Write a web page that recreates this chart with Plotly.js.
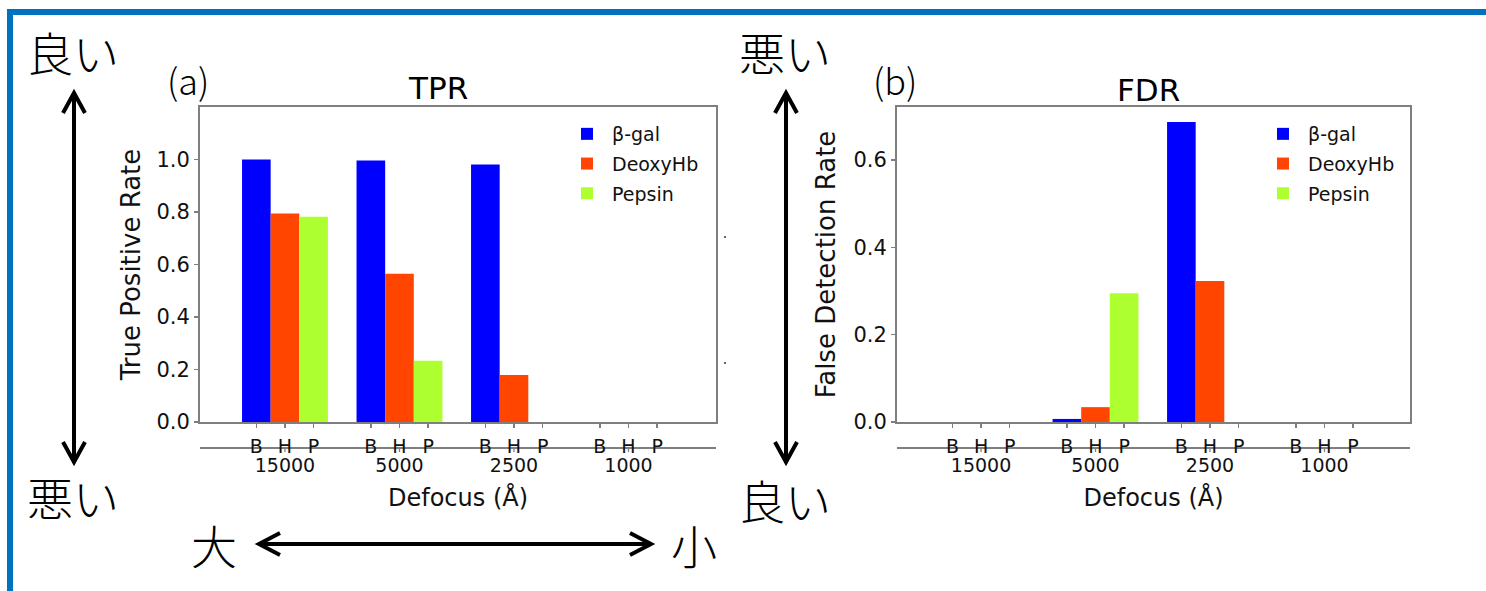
<!DOCTYPE html>
<html>
<head>
<meta charset="utf-8">
<script src="https://cdn.plot.ly/plotly-3.0.1.min.js"></script>
<style>html,body{margin:0;padding:0;background:#fff;}#chart{width:1486px;height:591px;}</style>
</head>
<body>
<div id="chart"></div>
<script>
// ---- data ----
const defocus = ['15000', '5000', '2500', '1000'];
const groupIndex = [0, 1, 2, 3];
const proteins = ['β-gal', 'DeoxyHb', 'Pepsin'];
const shortLabels = ['B', 'H', 'P'];
const tprBgal    = [1.000, 0.996, 0.981, 0];
const tprDeoxyHb = [0.794, 0.565, 0.179, 0];
const tprPepsin  = [0.782, 0.233, 0.000, 0];
const fdrBgal    = [0.000, 0.007, 0.687, 0];
const fdrDeoxyHb = [0.000, 0.034, 0.323, 0];
const fdrPepsin  = [0.000, 0.295, 0.000, 0];
const tprTicks = [0, 0.2, 0.4, 0.6, 0.8, 1.0];
const fdrTicks = [0, 0.2, 0.4, 0.6];

// ---- style ----
const colors = ['#0000ff', '#ff4500', '#adff2f'];
const W = 1486, H = 591;
const px = x => x / W;
const py = y => 1 - y / H;
const FONT = 'DejaVu Sans';
const JP = 'Noto Sans CJK JP';
const SPINE = '#7f7f7f';
const offsets = [-0.25, 0, 0.25];

const subTicks = [], subText = [];
groupIndex.forEach(g => offsets.forEach((o, k) => { subTicks.push(g + o); subText.push(shortLabels[k]); }));

function bars(vals, xa, ya, leg, tag) {
  return vals.map((v, i) => ({
    type: 'bar', x: groupIndex, y: v, name: proteins[i],
    marker: {color: colors[i], line: {width: 0}},
    xaxis: xa, yaxis: ya, legend: leg, legendgroup: tag + i, hoverinfo: 'x+y+name'
  }));
}
const traces = [
  ...bars([tprBgal, tprDeoxyHb, tprPepsin], 'x', 'y', 'legend', 'tpr'),
  ...bars([fdrBgal, fdrDeoxyHb, fdrPepsin], 'x2', 'y2', 'legend2', 'fdr'),
  {type: 'scatter', x: [], y: [], xaxis: 'x3', yaxis: 'y', showlegend: false, hoverinfo: 'skip'},
  {type: 'scatter', x: [], y: [], xaxis: 'x4', yaxis: 'y2', showlegend: false, hoverinfo: 'skip'}
];

const yDom = [py(422), py(107)];
const rangeL = [-0.742, 3.764], rangeR = [-0.734, 3.747];
const tf = {family: FONT, size: 19, color: '#111'};
const ytf = {family: FONT, size: 21, color: '#111'};
const titleF = {family: FONT, size: 24, color: '#111'};
const ytitleF = {family: FONT, size: 26, color: '#111'};

function mainX(dom, range, anchor) {
  return {domain: dom, range: range, anchor: anchor, tickmode: 'array', tickvals: subTicks, ticktext: subText,
    ticks: 'outside', ticklen: 4, tickwidth: 1.3, tickcolor: SPINE, showline: true, linecolor: SPINE, linewidth: 2,
    mirror: true, showgrid: false, zeroline: false, tickfont: tf, ticklabelstandoff: 2, fixedrange: true};
}
function lowerX(over, range, dom) {
  return {overlaying: over, domain: dom, anchor: 'free', position: py(447), side: 'bottom', range: range,
    tickmode: 'array', tickvals: groupIndex, ticktext: defocus, ticks: '', ticklabelstandoff: 1,
    showline: true, linecolor: SPINE, linewidth: 1.5, showgrid: false, zeroline: false,
    tickfont: tf, title: {text: 'Defocus (Å)', font: titleF, standoff: 14}, fixedrange: true};
}
function mainY(range, ticks, anchor, title, standoff) {
  return {domain: yDom, range: range, anchor: anchor, tickmode: 'array', tickvals: ticks, tickformat: '.1f',
    ticks: 'outside', ticklen: 4, tickwidth: 1.3, tickcolor: SPINE, showline: true, linecolor: SPINE, linewidth: 2,
    mirror: true, showgrid: false, zeroline: false, tickfont: ytf,
    title: {text: title, font: ytitleF, standoff: standoff}, fixedrange: true};
}

const domL = [px(200), px(716)], domR = [px(897), px(1410)];

function seg(pts) { return 'M' + pts.map(p => px(p[0]) + ',' + py(p[1])).join(' L'); }
function pathShape(pts, w) {
  return {type: 'path', xref: 'paper', yref: 'paper', path: seg(pts), line: {color: '#000', width: w}, layer: 'above'};
}
const arrows = [];
[74, 786].forEach(ax => {
  arrows.push(pathShape([[ax, 96], [ax, 459]], 4));
  arrows.push(pathShape([[ax - 11, 113], [ax, 93], [ax + 11, 113]], 4));
  arrows.push(pathShape([[ax - 11, 442], [ax, 462], [ax + 11, 442]], 4));
});
arrows.push(pathShape([[262, 544], [648, 544]], 4));
arrows.push(pathShape([[280, 533], [259, 544], [280, 555]], 4));
arrows.push(pathShape([[630, 533], [651, 544], [630, 555]], 4));

// small tick marks under the lower (defocus) axis lines, placed through the axis scale
const lowerTicks = [];
['x3', 'x4'].forEach(xr => groupIndex.forEach(g => lowerTicks.push(
  {type: 'line', xref: xr, yref: 'paper', x0: g, x1: g, y0: py(447.5), y1: py(452), line: {color: SPINE, width: 1.3}}
)));

const shapes = [
  {type: 'line', xref: 'paper', yref: 'paper', x0: px(7), x1: 1.01, y0: py(12), y1: py(12), line: {color: '#0070c0', width: 6}},
  {type: 'line', xref: 'paper', yref: 'paper', x0: px(10), x1: px(10), y0: py(9), y1: -0.01, line: {color: '#0070c0', width: 6}},
  {type: 'line', xref: 'paper', yref: 'paper', x0: px(972), x1: px(1328), y0: py(108.3), y1: py(108.3), line: {color: '#ffffff', width: 1.2}, layer: 'above'},
  {type: 'line', xref: 'paper', yref: 'paper', x0: px(724), x1: px(726), y0: py(237), y1: py(237), line: {color: '#333', width: 1.5}},
  {type: 'line', xref: 'paper', yref: 'paper', x0: px(724), x1: px(726), y0: py(363), y1: py(363), line: {color: '#333', width: 1.5}},
  ...lowerTicks,
  ...arrows
];

function ann(text, x, y, size, family, weight) {
  return {text: text, xref: 'paper', yref: 'paper', x: px(x), y: py(y), xanchor: 'center', yanchor: 'middle',
    showarrow: false, font: {family: family, size: size, color: '#000', weight: weight || 'normal'}};
}
const annotations = [
  ann('TPR', 438, 88, 31, FONT),
  ann('FDR', 1148, 90, 31, FONT),
  ann('(a)', 188, 79, 36, JP, 300),
  ann('(b)', 895, 79, 36, JP, 300),
  ann('良い', 73, 51, 46, JP, 300),
  ann('悪い', 73, 496, 46, JP, 300),
  ann('悪い', 785, 51, 46, JP, 300),
  ann('良い', 785, 499, 46, JP, 300),
  ann('大', 214, 544, 46, JP, 300),
  ann('小', 694, 544, 46, JP, 300)
];

const legendBase = {xanchor: 'left', yanchor: 'top', font: {family: FONT, size: 19, color: '#111'},
  bgcolor: 'rgba(0,0,0,0)', borderwidth: 0, itemwidth: 40, tracegroupgap: 2};

const layout = {
  width: W, height: H, margin: {l: 0, r: 0, t: 0, b: 0},
  paper_bgcolor: '#fff', plot_bgcolor: '#fff',
  barmode: 'group', bargap: 0.25, bargroupgap: 0,
  font: {family: FONT, color: '#111'},
  xaxis: mainX(domL, rangeL, 'y'),
  yaxis: mainY([0, 1.2], tprTicks, 'x', 'True Positive Rate', 8),
  xaxis2: mainX(domR, rangeR, 'y2'),
  yaxis2: mainY([0, 0.7216], fdrTicks, 'x2', 'False Detection Rate', 10),
  xaxis3: lowerX('x', rangeL, domL),
  xaxis4: lowerX('x2', rangeR, domR),
  legend: Object.assign({}, legendBase, {x: px(562), y: py(115)}),
  legend2: Object.assign({}, legendBase, {x: px(1258), y: py(115)}),
  shapes: shapes,
  annotations: annotations,
  showlegend: true
};

Plotly.newPlot('chart', traces, layout, {displayModeBar: false, staticPlot: true});
</script>
</body>
</html>
